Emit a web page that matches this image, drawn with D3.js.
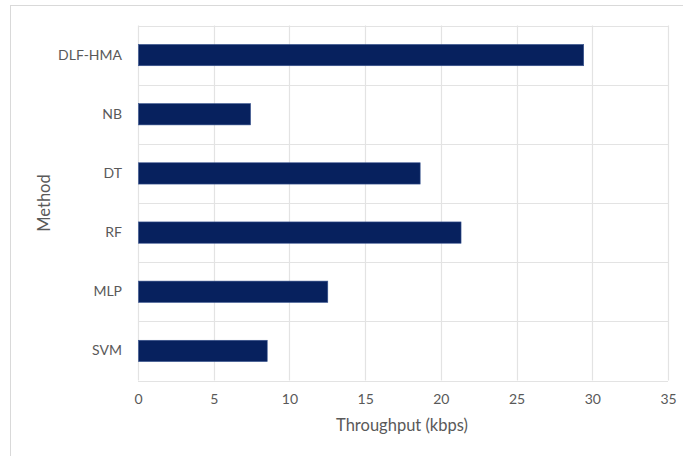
<!DOCTYPE html>
<html>
<head>
<meta charset="utf-8">
<script src="https://cdn.jsdelivr.net/npm/d3@7/dist/d3.min.js"></script>
<style>
  html, body { margin: 0; padding: 0; background: #fff; }
  svg { display: block; }
  text { font-family: Lato, "Open Sans", sans-serif; fill: #595959; }
</style>
</head>
<body>
<svg id="chart" width="683" height="456"></svg>
<script>
// Throughput per method
const methods = ["DLF-HMA", "NB", "DT", "RF", "MLP", "SVM"];
const throughput = [29.4, 7.4, 18.6, 21.3, 12.5, 8.5];
const xTicks = [0, 5, 10, 15, 20, 25, 30, 35];

const svg = d3.select("#chart");
const W = 683, H = 456;
const margin = { left: 138, right: 15, top: 25.5, bottom: 75.5 };

// outer frame of the chart area
svg.append("rect")
  .attr("x", 10.5).attr("y", 5.5)
  .attr("width", W).attr("height", H)
  .attr("fill", "none").attr("stroke", "#d9d9d9").attr("stroke-width", 1);

const x = d3.scaleLinear().domain([0, 35]).range([margin.left, W - margin.right]);
const y = d3.scaleBand().domain(methods)
  .range([margin.top, H - margin.bottom])
  .paddingInner(0).paddingOuter(0);

// vertical gridlines
svg.append("g")
  .selectAll("line")
  .data(xTicks)
  .join("line")
  .attr("x1", d => Math.round(x(d)) + 0.5)
  .attr("x2", d => Math.round(x(d)) + 0.5)
  .attr("y1", margin.top).attr("y2", H - margin.bottom)
  .attr("stroke", "#e3e3e3").attr("stroke-width", 1.2);

// horizontal band separators
const bandEdges = methods.map(m => y(m)).concat([H - margin.bottom]);
svg.append("g")
  .selectAll("line")
  .data(bandEdges)
  .join("line")
  .attr("x1", x(0)).attr("x2", x(35))
  .attr("y1", d => Math.round(d) + 0.5)
  .attr("y2", d => Math.round(d) + 0.5)
  .attr("stroke", "#e3e3e3").attr("stroke-width", 1.2);

// bars
const barH = y.bandwidth() * 0.36;
svg.append("g")
  .selectAll("rect")
  .data(methods.map((m, i) => ({ m, v: throughput[i] })))
  .join("rect")
  .attr("x", x(0) + 0.5)
  .attr("y", d => y(d.m) + (y.bandwidth() - barH) / 2)
  .attr("width", d => x(d.v) - x(0))
  .attr("height", barH)
  .attr("fill", "#07215e")
  .attr("stroke", "#3a5590").attr("stroke-width", 0.6);

// x axis tick labels
const xAxis = d3.axisBottom(x).tickValues(xTicks).tickSize(0).tickPadding(14);
const gx = svg.append("g")
  .attr("transform", `translate(0,${H - margin.bottom})`)
  .call(xAxis);
gx.select(".domain").remove();
gx.selectAll("text")
  .style("font-family", "Lato, 'Open Sans', sans-serif")
  .style("font-size", "14px").style("fill", "#595959");

// y axis category labels
const yAxis = d3.axisLeft(y).tickSize(0).tickPadding(16);
const gy = svg.append("g")
  .attr("transform", `translate(${margin.left},0)`)
  .call(yAxis);
gy.select(".domain").remove();
gy.selectAll("text")
  .style("font-family", "Lato, 'Open Sans', sans-serif")
  .style("font-size", "14px").style("fill", "#595959");

// axis titles
svg.append("text")
  .attr("x", (x(0) + x(35)) / 2 - 1)
  .attr("y", 431)
  .attr("text-anchor", "middle")
  .style("font-size", "16.5px")
  .text("Throughput (kbps)");

svg.append("text")
  .attr("transform", `translate(50,${(margin.top + H - margin.bottom) / 2}) rotate(-90)`)
  .attr("text-anchor", "middle")
  .style("font-size", "16.5px")
  .text("Method");
</script>
</body>
</html>
